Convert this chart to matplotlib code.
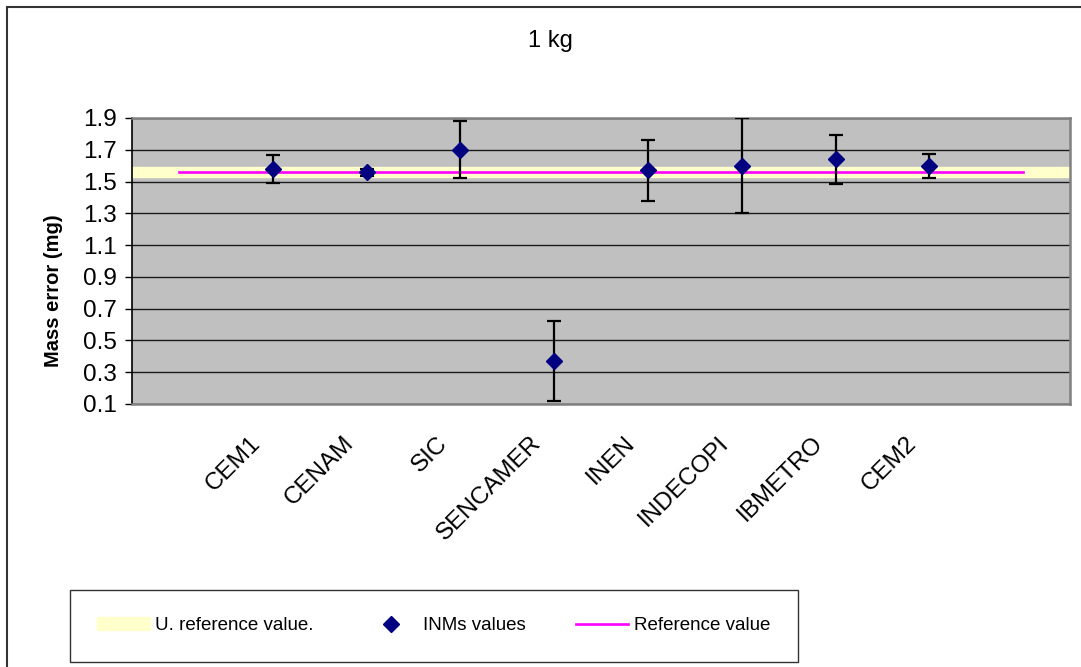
"""
1 kg comparison: mass error of each laboratory with its uncertainty,
against the reference value and its uncertainty band.
"""

import numpy as np
import matplotlib.pyplot as plt
from matplotlib.patches import Rectangle
from matplotlib.transforms import ScaledTranslation

plt.rcParams['font.family'] = ['Liberation Sans', 'DejaVu Sans']

labs = ['CEM1', 'CENAM', 'SIC', 'SENCAMER', 'INEN', 'INDECOPI', 'IBMETRO', 'CEM2']
mass_error = [1.58, 1.56, 1.70, 0.37, 1.57, 1.60, 1.64, 1.60]
uncertainty = [0.088, 0.022, 0.178, 0.25, 0.19, 0.30, 0.155, 0.075]

ref_value = 1.562
ref_uncertainty = 0.032
y_ticks = np.arange(0.1, 1.91, 0.2)

fig = plt.figure(figsize=(10.81, 6.67), dpi=100)
ax = fig.add_axes([132 / 1081, 263 / 667, 938 / 1081, 286 / 667])
ax.set_facecolor('#C0C0C0')

# categories sit at 1..n, with one empty slot on each side
x = np.arange(1, len(labs) + 1)
ref_x = np.arange(0, len(labs) + 2)

ax.axhspan(ref_value - ref_uncertainty, ref_value + ref_uncertainty,
           color='#FFFFCC', zorder=1, label='U. reference value.')
ax.errorbar(x, mass_error, yerr=uncertainty, fmt='none', ecolor='black',
            elinewidth=1.6, capsize=5, capthick=1.6, zorder=3)
ax.plot(x, mass_error, linestyle='none', marker='D', markersize=8,
        color='#000080', zorder=4, label='INMs values')
ax.plot(ref_x, np.full(len(ref_x), ref_value), color='#FF00FF', lw=1.9,
        zorder=2, label='Reference value')

ax.set_xlim(-0.5, len(labs) + 1.5)
ax.set_ylim(0.1, 1.9)
ax.set_yticks(y_ticks)
ax.set_yticklabels([f'{v:.1f}' for v in y_ticks])
ax.grid(axis='y', color='#1a1a1a', lw=1.0, zorder=0.5)
ax.set_axisbelow(True)
ax.tick_params(axis='y', direction='out', length=5, width=1, pad=6, labelsize=17.5)

ax.set_xticks(x)
ax.set_xticklabels(labs, rotation=45, ha='right', va='center',
                   rotation_mode='anchor', fontsize=17.5)
ax.tick_params(axis='x', length=0, pad=26)
for lbl in ax.get_xticklabels():
    lbl.set_transform(lbl.get_transform() + ScaledTranslation(-0.16, 0, fig.dpi_scale_trans))

for side in ['top', 'right', 'bottom']:
    ax.spines[side].set_color('#808080')
    ax.spines[side].set_linewidth(1.8)
ax.spines['left'].set_color('black')
ax.spines['left'].set_linewidth(1.2)

ax.set_ylabel('Mass error (mg)', fontsize=14.5, fontweight='bold')
ax.yaxis.set_label_coords(-0.074, 0.395)

fig.text(550 / 1081, 1 - 41 / 667, '1 kg', fontsize=17, ha='center', va='center')

leg = fig.legend(loc='upper left', bbox_to_anchor=(70 / 1081, 1 - 590 / 667),
                 ncol=3, fontsize=13.5, frameon=True, fancybox=False,
                 edgecolor='black', borderpad=1.45, borderaxespad=0,
                 columnspacing=2.7, handlelength=2.8, handletextpad=0.3)
leg.get_frame().set_linewidth(1.0)

# outer chart frame (only left and top edges fall inside the picture)
fig.add_artist(Rectangle((7 / 1081, -0.1), 1.2, 1.1 - 7 / 667, transform=fig.transFigure,
                         fill=False, edgecolor='#333333', lw=1.5))

fig.savefig('out.png', dpi=100)
